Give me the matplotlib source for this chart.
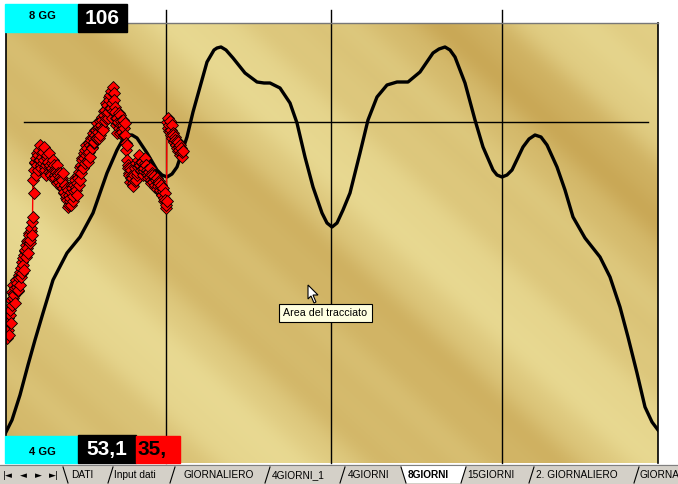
import numpy as np
import matplotlib
matplotlib.use("Agg")
import matplotlib.pyplot as plt
from matplotlib.patches import Rectangle, Polygon

# ---- data (x = bar index, y = price units) ----
cycle_x = [0, 6, 14, 22, 29, 37, 47, 61, 74, 87, 101, 111, 116, 121, 126, 131, 141, 151, 156,
           161, 166, 171, 181, 187, 194, 201, 208, 211, 215, 220, 227, 239, 251, 258, 264, 274,
           284, 291, 299, 307, 316, 321, 326, 331, 337, 344, 354, 362, 371, 381, 391, 402, 414,
           427, 433, 439, 444, 449, 459, 469, 477, 487, 491, 496, 501, 506, 517, 523, 529, 535,
           541, 551, 559, 567, 579, 594, 604, 614, 622, 631, 639, 646, 652]
cycle_y = [31, 43, 68, 98, 123, 150, 183, 210, 226, 250, 290, 313, 322, 328, 328, 325, 310, 293,
           288, 286, 289, 296, 326, 351, 376, 401, 413, 415, 416, 413, 405, 390, 381, 380, 380,
           375, 360, 340, 306, 276, 250, 240, 236, 240, 253, 270, 310, 343, 366, 378, 381, 381,
           391, 410, 414, 416, 413, 406, 380, 343, 316, 293, 288, 286, 288, 293, 316, 324, 328,
           326, 318, 296, 273, 246, 225, 206, 186, 156, 126, 90, 56, 41, 33]

# two readings per bar (first and second print of the day)
price_a = [130, 138, 145, 141, 153,
           163, 171, 178, 168, 175, 183, 180, 173, 185, 191,
           195, 201, 198, 208, 213, 218, 215, 223, 228, 223, 235, 241,
           283, 293, 301, 305, 298, 308, 313, 303, 295, 306, 311, 303, 293, 298,
           308, 301, 291, 298, 288, 295, 303, 293, 285, 291, 298, 288, 281, 286, 278,
           283, 275, 271, 278, 268, 263, 273, 258, 265, 271, 275, 267, 278, 283, 273,
           280, 285, 291, 283, 298, 303, 295, 305, 313, 308, 315, 301, 311, 318, 323, 315, 325, 321, 328, 333,
           325, 331, 336, 328, 338, 343, 333, 348, 353, 345, 358, 351, 363, 368, 355, 345, 376, 363, 351, 338,
           345, 341, 335, 348, 338, 331, 343, 335, 328, 313,
           303, 295, 288, 281, 293, 285, 277, 288, 295, 283, 291, 303, 308, 298, 293, 301, 288, 295, 305, 298,
           293, 285, 291, 295, 283, 288, 281, 287, 278, 283, 285, 277, 280, 273, 278, 268, 275, 265, 263, 258,
           341, 335, 338, 331, 333, 325, 328, 321, 323, 318, 315, 321, 313, 308, 315, 311]
price_b = [125, 133, 128, 148, 140,
           158, 165, 170, 160, 183, 176, 172, 188, 178, 186,
           190, 205, 193, 212, 206, 222, 210, 230, 220, 232, 228, 246,
           270, 300, 288, 310, 293, 303, 318, 298, 310, 300, 316, 296, 288, 305,
           300, 310, 296, 290, 300, 285, 298, 288, 293, 280, 290, 283, 290, 276, 285,
           290, 270, 278, 265, 275, 256, 268, 262, 258, 278, 262, 272, 285, 276, 268,
           288, 278, 296, 290, 305, 296, 310, 300, 318, 302, 310, 320, 306, 325, 316, 330, 320, 333, 325, 340,
           335, 325, 342, 335, 346, 335, 352, 342, 360, 350, 345, 366, 355, 372, 360, 352, 370, 356, 345, 330,
           340, 350, 330, 342, 334, 338, 328, 340, 320, 318,
           298, 290, 295, 285, 288, 280, 290, 282, 300, 288, 296, 298, 300, 292, 300, 294, 292, 300, 298, 290,
           288, 292, 286, 280, 290, 282, 286, 276, 284, 274, 280, 282, 272, 276, 268, 272, 262, 270, 255, 262,
           345, 332, 342, 328, 338, 330, 322, 326, 318, 322, 312, 316, 318, 310, 306, 312]

cycle_lows = [160, 325, 496]
level = 341
level_span = (18, 642)

label_top = ["8 GG", "106"]
label_bottom = ["4 GG", "53,1", "35,"]
tabs = ["DATI", "Input dati", "GIORNALIERO", "4GIORNI_1", "4GIORNI", "8GIORNI",
        "15GIORNI", "2. GIORNALIERO", "GIORNALIERO"]
active_tab = "8GIORNI"

W, H = 678, 484
fig = plt.figure(figsize=(W / 100, H / 100), dpi=100)
fig.patch.set_facecolor("white")

ax = fig.add_axes([6 / W, (H - 463) / H, 652 / W, 440 / H])
ax.set_xlim(0, 652)
ax.set_ylim(0, 440)
ax.axis("off")

# golden textured background
gx, gy = np.meshgrid(np.linspace(0, 652, 330), np.linspace(440, 0, 220))
d = gx + gy * 1.1
t = (0.6 * np.sin(2 * np.pi * d / 430 + 0.9) + 0.3 * np.sin(2 * np.pi * d / 190 + 2.0)
     + 0.06 * np.sin(2 * np.pi * d / 60))
t = (t - t.min()) / (t.max() - t.min())
t = t ** 1.3
light = np.array([0.91, 0.85, 0.57])
dark = np.array([0.79, 0.66, 0.34])
img = light[None, None, :] * (1 - t[..., None]) + dark[None, None, :] * t[..., None]
ax.imshow(img, extent=(0, 652, 0, 440), aspect="auto", zorder=0)

# borders of the plot area
ax.plot([0, 0], [0, 440], color="black", lw=1.2, zorder=5, clip_on=False)
ax.plot([652, 652], [0, 440], color="black", lw=1.2, zorder=5, clip_on=False)
ax.plot([0, 652], [440, 440], color="#777777", lw=1.0, zorder=5, clip_on=False)

for cx in cycle_lows:
    ax.plot([cx, cx], [0, 453], color="black", lw=1.0, zorder=2, clip_on=False)
ax.plot(level_span, [level, level], color="black", lw=1.0, zorder=2)

ax.plot(cycle_x, cycle_y, color="black", lw=2.4, zorder=3, solid_joinstyle="round")

n = len(price_a)
px = np.column_stack([np.arange(n), np.arange(n) + 0.5]).ravel()
py = np.column_stack([price_a, price_b]).ravel()
ax.plot(px, py, color="red", lw=1.0, marker="D", markersize=6,
        markerfacecolor="red", markeredgecolor="black", markeredgewidth=0.6, zorder=4)

# ---- overlay in screen pixels for labels, tooltip and sheet tabs ----
ov = fig.add_axes([0, 0, 1, 1], zorder=10)
ov.set_xlim(0, W)
ov.set_ylim(H, 0)
ov.axis("off")
ov.patch.set_alpha(0)

ov.add_patch(Rectangle((5, 4), 73, 28, color="#00FFFF"))
ov.add_patch(Rectangle((78, 4), 49, 28, color="black"))
ov.text(42, 16, label_top[0], ha="center", va="center", fontsize=8, fontweight="bold",
        family="Liberation Sans")
ov.text(102, 19, label_top[1], ha="center", va="center", fontsize=15, fontweight="bold",
        color="white", family="Liberation Sans")

ov.add_patch(Rectangle((5, 436), 73, 27, color="#00FFFF"))
ov.add_patch(Rectangle((78, 435), 58, 28, color="black"))
ov.add_patch(Rectangle((136, 436), 44, 27, color="red"))
ov.text(42, 452, label_bottom[0], ha="center", va="center", fontsize=8, fontweight="bold",
        family="Liberation Sans")
ov.text(107, 449, label_bottom[1], ha="center", va="center", fontsize=15, fontweight="bold",
        color="white", family="Liberation Sans")
ov.text(138, 449, label_bottom[2], ha="left", va="center", fontsize=15, fontweight="bold",
        color="black", family="Liberation Sans")

# tooltip + mouse cursor
ov.add_patch(Rectangle((279, 304), 93, 18, facecolor="#FFFFE1", edgecolor="black", lw=0.8))
ov.text(283, 313.5, "Area del tracciato", ha="left", va="center", fontsize=7.7,
        family="Liberation Sans")
ov.add_patch(Polygon([(308, 285), (308, 299), (311, 296), (314, 303), (316, 302),
                      (313, 295), (318, 295)], closed=True, facecolor="white",
                     edgecolor="black", lw=0.8))

# sheet tab bar
ov.add_patch(Rectangle((0, 465), W, 19, color="#D4D0C8"))
ov.plot([0, W], [465, 465], color="#808080", lw=0.8)
for nx, sym in zip([8, 23, 38, 54], ["|◄", "◄", "►", "►|"]):
    ov.text(nx, 476, sym, ha="center", va="center", fontsize=6.5, family="DejaVu Sans")
seps = [63, 108, 170, 265, 340, 401, 461, 529, 634]
starts = [71, 114, 183, 272, 348, 408, 467, 536, 640]
for i, (s, name) in enumerate(zip(seps, tabs)):
    if name == active_tab:
        ov.add_patch(Polygon([(s, 466), (seps[i + 1] + 5, 466), (seps[i + 1], 483), (s + 5, 483)],
                             closed=True, facecolor="white", edgecolor="none"))
    if i == 0 or name == active_tab:
        ov.plot([s, s + 5], [467, 483], color="black", lw=0.8)
    else:
        ov.plot([s + 5, s], [467, 483], color="black", lw=0.8)
    ov.text(starts[i], 475.5, name, ha="left", va="center", fontsize=7.3,
            fontweight="bold" if name == active_tab else "normal",
            family="Liberation Sans", clip_on=True)

fig.savefig("out.png", dpi=100)
